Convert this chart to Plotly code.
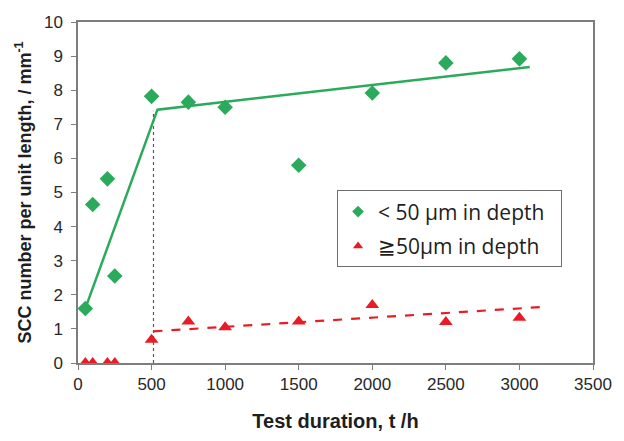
import plotly.graph_objects as go

# Data
t_h = [50, 100, 200, 250, 500, 750, 1000, 1500, 2000, 2500, 3000]
scc_lt50 = [1.6, 4.65, 5.4, 2.55, 7.82, 7.65, 7.5, 5.8, 7.92, 8.8, 8.92]
scc_ge50 = [0, 0, 0, 0, 0.68, 1.22, 1.05, 1.22, 1.7, 1.2, 1.33]

# Trend lines (as drawn in the reference)
fit_lt50_x = [50, 540, 3070]
fit_lt50_y = [1.6, 7.43, 8.68]
fit_ge50_x = [513, 3180]
fit_ge50_y = [0.93, 1.65]
divider_x = [513, 513]
divider_y = [0, 7.4]

x_ticks = [0, 500, 1000, 1500, 2000, 2500, 3000, 3500]
y_ticks = list(range(0, 11))

series_names = ["< 50 µm in depth", "≧50µm in depth"]

GREEN = "rgb(44,170,92)"
RED = "rgb(232,28,36)"
PAD = "\u00a0\u00a0"

fig = go.Figure()
fig.add_trace(go.Scatter(x=divider_x, y=divider_y, mode="lines",
                         line=dict(color="rgb(90,90,90)", width=1.2, dash="dot"),
                         showlegend=False, hoverinfo="skip"))
fig.add_trace(go.Scatter(x=fit_lt50_x, y=fit_lt50_y, mode="lines",
                         line=dict(color=GREEN, width=2.5), showlegend=False))
fig.add_trace(go.Scatter(x=fit_ge50_x, y=fit_ge50_y, mode="lines",
                         line=dict(color=RED, width=2.2, dash="dash"), showlegend=False))
fig.add_trace(go.Scatter(x=t_h, y=scc_lt50, mode="markers", name=series_names[0],
                         legendgroup="a", showlegend=False,
                         marker=dict(symbol="diamond", size=12, color=GREEN)))
fig.add_trace(go.Scatter(x=t_h, y=scc_ge50, mode="markers", name=series_names[1],
                         legendgroup="b", showlegend=False,
                         marker=dict(symbol="triangle-up", size=12, color=RED)))
# Legend entries (smaller symbols, as in the reference legend)
fig.add_trace(go.Scatter(x=[None], y=[None], mode="markers", name=series_names[0] + PAD,
                         legendgroup="a",
                         marker=dict(symbol="diamond", size=9, color=GREEN)))
fig.add_trace(go.Scatter(x=[None], y=[None], mode="markers", name=series_names[1] + PAD,
                         legendgroup="b",
                         marker=dict(symbol="triangle-up", size=9, color=RED)))

axis_common = dict(showline=True, linecolor="rgb(125,125,125)", linewidth=1.5,
                   mirror=True, ticks="outside", ticklen=5, tickcolor="rgb(125,125,125)",
                   showgrid=False, zeroline=False,
                   tickfont=dict(family="Liberation Sans, Arial", size=17, color="rgb(40,40,40)"))

fig.update_layout(
    width=624, height=441,
    margin=dict(l=78, r=21, t=22, b=69),
    paper_bgcolor="white", plot_bgcolor="white",
    xaxis=dict(range=[0, 3500], tickvals=x_ticks,
               title=dict(text="<b>Test duration, t /h</b>", standoff=21,
                          font=dict(family="Liberation Sans, Arial", size=20, color="rgb(30,30,30)")),
               **axis_common),
    yaxis=dict(range=[0, 10], tickvals=y_ticks, ticklabelstandoff=5,
               title=dict(text="<b>SCC number per unit length, / mm<sup>-1</sup></b>", standoff=8,
                          font=dict(family="Liberation Sans, Arial", size=18, color="rgb(30,30,30)")),
               **axis_common),
    legend=dict(x=0.503, y=0.506, xanchor="left", yanchor="top",
                bordercolor="rgb(110,110,110)", borderwidth=1, bgcolor="white",
                font=dict(family="Open Sans, Noto Sans", size=21, color="rgb(30,30,30)"),
                itemsizing="trace", tracegroupgap=4),
)

# Remove the default page body margin so the figure sits at the window origin.
fig.write_html("out.html", config={"displayModeBar": False},
               post_script="document.body.style.margin='0';")
